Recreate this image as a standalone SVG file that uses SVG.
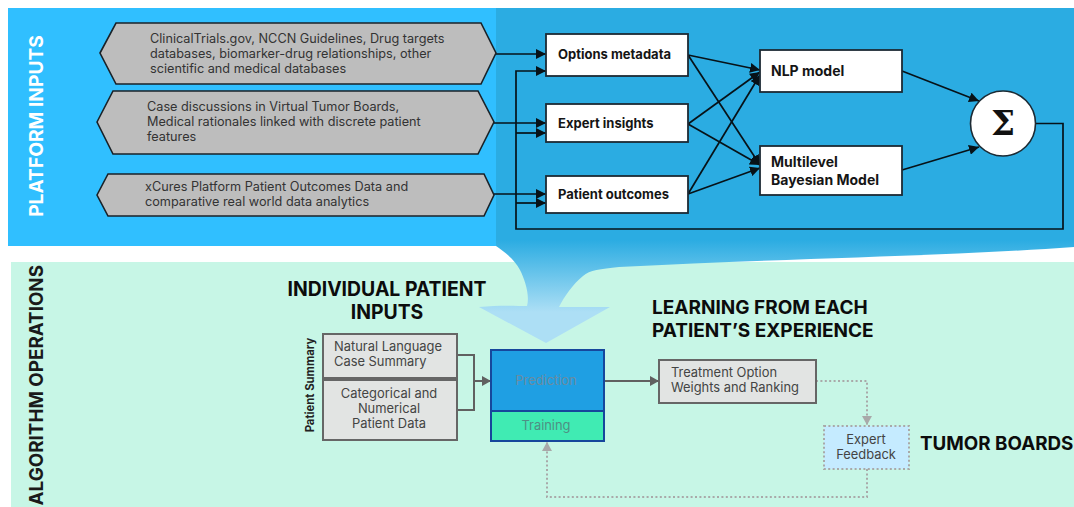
<svg xmlns="http://www.w3.org/2000/svg" width="1074" height="507" viewBox="0 0 1074 507">
<style>
text{font-family:Inter,"Liberation Sans",sans-serif}
.hex{fill:#BDBDBD;stroke:#1A2228;stroke-width:1.6}
.ht{font-size:12.7px;fill:#333}
.wb{fill:#fff;stroke:#1c2a33;stroke-width:1.8}
.wt{font-size:13px;font-weight:700;fill:#151515}
.wl{font-size:14px;font-weight:700;fill:#151515}
.gb{fill:#E2E4E3;stroke:#666;stroke-width:2}
.gt{font-size:12.9px;fill:#444}
.h{font-size:19px;font-weight:700;fill:#0c0c0c}
.k{fill:none;stroke:#071218;stroke-width:1.7}
.g{fill:none;stroke:#606060;stroke-width:2}
.d{fill:none;stroke:#A9A9A9;stroke-width:2;stroke-dasharray:2 2.4}
</style>
<defs>
<linearGradient id="fun" gradientUnits="userSpaceOnUse" x1="0" y1="240" x2="0" y2="312">
<stop offset="0" stop-color="#2BACE2"/><stop offset="1" stop-color="#ADDFF5"/>
</linearGradient>
<marker id="ak" markerUnits="userSpaceOnUse" markerWidth="11" markerHeight="10" refX="10" refY="5" orient="auto"><path d="M0 0L10 5L0 10z" fill="#071218"/></marker>
<marker id="ag" markerUnits="userSpaceOnUse" markerWidth="10" markerHeight="10" refX="9" refY="5" orient="auto"><path d="M0 0L9 5L0 10z" fill="#606060"/></marker>
<marker id="ad" markerUnits="userSpaceOnUse" markerWidth="10" markerHeight="10" refX="9" refY="5" orient="auto"><path d="M0 0L9 5L0 10z" fill="#A9A9A9"/></marker>
</defs>
<rect width="1074" height="507" fill="#fff"/>
<rect x="11" y="262" width="1063" height="245" fill="#C7F6E6"/>
<rect x="8" y="8" width="488" height="238" fill="#30BFFF"/>
<path id="funnel" d="M496 8H1074V247C950 256 800 258 619 267C600 269 590 270 583 276C573 284 564 297 559 307H610L546 343L479 307C500 305 516 306 527 306C530 295 525 280 520 270C515 260 505 252 496 246Z" fill="url(#fun)"/>
<rect x="496" y="8" width="578" height="230" fill="#2BACE2"/>
<text transform="translate(43,126) rotate(-90)" text-anchor="middle" font-size="19.200" font-weight="700" fill="#fff">PLATFORM INPUTS</text>
<text transform="translate(43,265) rotate(-90)" text-anchor="end" font-size="18.800" font-weight="700" fill="#1a1a1a">ALGORITHM OPERATIONS</text>
<g id="connectors">
<path class="k" d="M496 54H546" marker-end="url(#ak)"/>
<path class="k" d="M494 123H546" marker-end="url(#ak)"/>
<path class="k" d="M494 194H546" marker-end="url(#ak)"/>
<path class="k" d="M1036 123.500H1063V229H516V71H546" marker-end="url(#ak)"/>
<path class="k" d="M516 133H546" marker-end="url(#ak)"/>
<path class="k" d="M516 203H546" marker-end="url(#ak)"/>
<path class="k" d="M688 55L760 70" marker-end="url(#ak)"/>
<path class="k" d="M688 55L760 165" marker-end="url(#ak)"/>
<path class="k" d="M688 124L760 72" marker-end="url(#ak)"/>
<path class="k" d="M688 124L760 165" marker-end="url(#ak)"/>
<path class="k" d="M688 194L760 75" marker-end="url(#ak)"/>
<path class="k" d="M688 194L760 168" marker-end="url(#ak)"/>
<path class="k" d="M902 71L979 101" marker-end="url(#ak)"/>
<path class="k" d="M902 170L979 147" marker-end="url(#ak)"/>
<path class="g" d="M457 355H474V410H457"/>
<path class="g" d="M474 381H491" marker-end="url(#ag)"/>
<path class="g" d="M604 381H659" marker-end="url(#ag)"/>
<path class="d" d="M816 381H867V425" marker-end="url(#ad)"/>
<path class="d" d="M867 469V497H547V442" marker-end="url(#ad)"/>
</g>
<g id="hex-sources"><polygon class="hex" points="100,53 116,23 481,23 496,53 481,84 116,84"/>
<text class="ht" x="150" y="43">ClinicalTrials.gov, NCCN Guidelines, Drug targets</text>
<text class="ht" x="150" y="58">databases, biomarker-drug relationships, other</text>
<text class="ht" x="150" y="73">scientific and medical databases</text></g>
<g id="hex-cases"><polygon class="hex" points="97,122 113,91 478,91 494,122 478,154 113,154"/>
<text class="ht" x="147" y="111">Case discussions in Virtual Tumor Boards,</text>
<text class="ht" x="147" y="126">Medical rationales linked with discrete patient</text>
<text class="ht" x="147" y="141">features</text></g>
<g id="hex-outcomes"><polygon class="hex" points="97,195 108,174 484,174 494,195 484,216 108,216"/>
<text class="ht" x="145" y="191">xCures Platform Patient Outcomes Data and</text>
<text class="ht" x="145" y="206">comparative real world data analytics</text></g>
<g id="options"><rect class="wb" x="546" y="34" width="142" height="42"/><text class="wt" x="558" y="59">Options metadata</text></g>
<g id="expert"><rect class="wb" x="546" y="104" width="142" height="38"/><text class="wt" x="558" y="128">Expert insights</text></g>
<g id="outcomes"><rect class="wb" x="546" y="176" width="142" height="37"/><text class="wt" x="558" y="199">Patient outcomes</text></g>
<g id="nlp"><rect class="wb" x="760" y="50" width="142" height="42"/><text class="wl" x="771" y="76">NLP model</text></g>
<g id="bayes"><rect class="wb" x="760" y="146" width="142" height="49"/><text class="wl" x="771" y="167">Multilevel</text><text class="wl" x="771" y="185">Bayesian Model</text></g>
<g id="sum"><circle cx="1003" cy="123.500" r="32.500" fill="#fff" stroke="#1c2a33" stroke-width="1.6"/><text x="1003" y="135" text-anchor="middle" font-size="34" font-weight="700" fill="#111" style="font-family:'DejaVu Serif',serif">Σ</text></g>
<text class="h" x="387" y="296" text-anchor="middle" style="font-size:19.400px">INDIVIDUAL PATIENT</text>
<text class="h" x="387" y="319" text-anchor="middle" style="font-size:19.400px">INPUTS</text>
<text class="h" x="652" y="314">LEARNING FROM EACH</text>
<text class="h" x="652" y="337">PATIENT’S EXPERIENCE</text>
<text transform="translate(314,385) rotate(-90)" text-anchor="middle" font-size="11.300" font-weight="700" fill="#222">Patient Summary</text>
<g id="nl"><rect class="gb" x="323" y="334" width="134" height="44"/><text class="gt" x="334" y="351">Natural Language</text><text class="gt" x="334" y="366">Case Summary</text></g>
<g id="cat"><rect class="gb" x="323" y="380" width="134" height="60"/><text class="gt" x="389" y="398" text-anchor="middle">Categorical and</text><text class="gt" x="389" y="413" text-anchor="middle">Numerical</text><text class="gt" x="389" y="428" text-anchor="middle">Patient Data</text></g>
<g id="prediction"><rect x="491" y="350" width="113" height="61" fill="#1F9FE3" stroke="#16479C" stroke-width="2"/><text x="546" y="385" text-anchor="middle" font-size="12.900" fill="#6a8ca0">Prediction</text></g>
<g id="training"><rect x="491" y="411" width="113" height="30" fill="#40EBB3" stroke="#16479C" stroke-width="2"/><text x="546" y="430" text-anchor="middle" font-size="12.900" fill="#4f8f84">Training</text></g>
<g id="treatment"><rect class="gb" x="659" y="360" width="157" height="43"/><text class="gt" x="671" y="377">Treatment Option</text><text class="gt" x="671" y="392">Weights and Ranking</text></g>
<g id="feedback"><rect x="824" y="426" width="85" height="43" fill="#C5EBFF" stroke="#A9A9A9" stroke-width="2" stroke-dasharray="2 2.400"/><text class="gt" x="866" y="444" text-anchor="middle">Expert</text><text class="gt" x="866" y="459" text-anchor="middle">Feedback</text></g>
<text class="h" x="920" y="450" style="font-size:18.800px">TUMOR BOARDS</text>
</svg>
